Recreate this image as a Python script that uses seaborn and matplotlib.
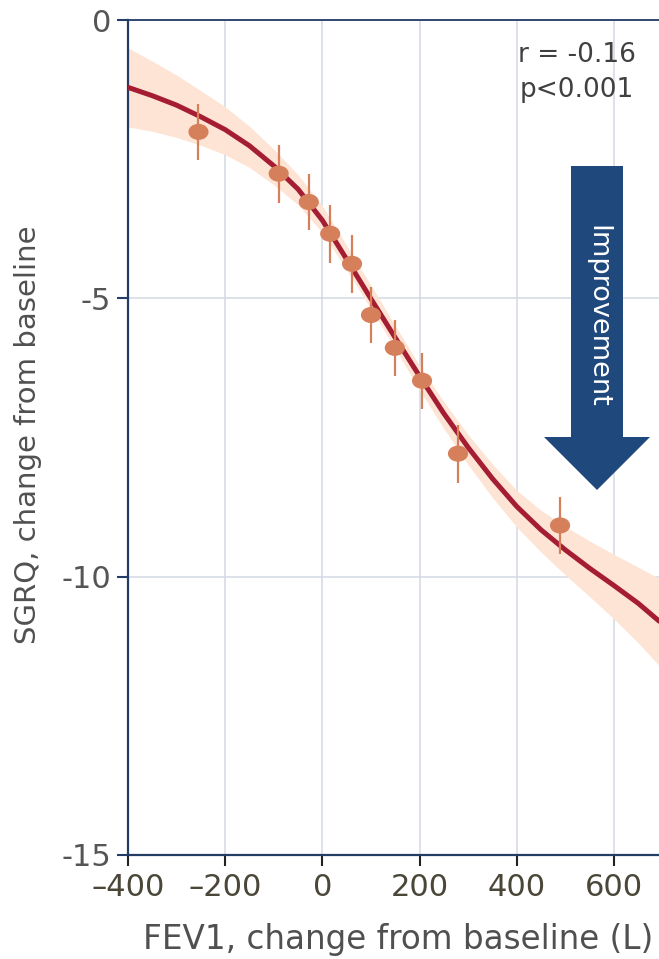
import matplotlib
matplotlib.use("Agg")
import matplotlib.pyplot as plt
import seaborn as sns
import numpy as np
import pandas as pd
from matplotlib.path import Path
from matplotlib.transforms import Affine2D
from matplotlib.patches import Polygon

# ---- data ----
pt_x = [-255, -90, -28, 16, 61, 100, 149, 205, 279, 489]
pt_y = [-2.01, -2.76, -3.27, -3.84, -4.38, -5.30, -5.89, -6.48, -7.79, -9.08]
pt_err = [0.50, 0.52, 0.50, 0.52, 0.52, 0.50, 0.50, 0.50, 0.52, 0.51]

fit_x = [-400, -350, -300, -250, -200, -150, -100, -50, 0, 50, 100, 150,
         200, 250, 300, 350, 400, 450, 500, 550, 600, 650, 693]
fit_y = [-1.21, -1.36, -1.53, -1.74, -1.97, -2.26, -2.62, -3.04, -3.60, -4.30,
         -5.01, -5.71, -6.40, -7.07, -7.68, -8.24, -8.74, -9.16, -9.52, -9.85,
         -10.16, -10.48, -10.80]
ci_hi = [-0.50, -0.74, -0.99, -1.27, -1.56, -1.91, -2.32, -2.78, -3.34, -4.05,
         -4.77, -5.49, -6.21, -6.86, -7.45, -7.98, -8.45, -8.81, -9.10, -9.36,
         -9.60, -9.83, -10.03]
ci_lo = [-1.92, -2.00, -2.11, -2.25, -2.42, -2.65, -2.96, -3.32, -3.82, -4.49,
         -5.19, -5.91, -6.65, -7.34, -7.99, -8.58, -9.11, -9.56, -9.97, -10.36,
         -10.76, -11.19, -11.60]

x_ticks = [-400, -200, 0, 200, 400, 600]
x_tick_labels = ["\u2013400", "\u2013200", "0", "200", "400", "600"]
y_ticks = [0, -5, -10, -15]
y_tick_labels = ["0", "-5", "-10", "-15"]

pts = pd.DataFrame({"x": pt_x, "y": pt_y, "err": pt_err})
fit = pd.DataFrame({"x": fit_x, "y": fit_y, "lo": ci_lo, "hi": ci_hi})

# ---- style ----
sns.set_theme(style="white")
plt.rcParams["font.family"] = ["DejaVu Sans"]
plt.rcParams["axes.unicode_minus"] = False

W, H = 659, 959
fig = plt.figure(figsize=(W / 100, H / 100), dpi=100)
fig.patch.set_facecolor("white")

ax_l, ax_r, ax_t, ax_b = 128, 659, 20, 855
ax = fig.add_axes([ax_l / W, 1 - ax_b / H, (ax_r - ax_l) / W, (ax_b - ax_t) / H])
ax.set_facecolor("white")

navy = "#233d66"
grid_c = "#d3d9e4"
curve_c = "#a41d32"
band_c = "#fde4d5"
pt_c = "#d57f5b"

ax.set_xlim(-400, -400 + (ax_r - ax_l) / 0.486)
ax.set_ylim(-15, 0)

ax.set_xticks(x_ticks)
ax.set_xticklabels(x_tick_labels)
ax.set_yticks(y_ticks)
ax.set_yticklabels(y_tick_labels)

ax.grid(True, color=grid_c, linewidth=1.1, zorder=0)
ax.set_axisbelow(True)

for s in ["left", "bottom", "top"]:
    ax.spines[s].set_visible(True)
    ax.spines[s].set_color(navy)
    ax.spines[s].set_linewidth(1.6)
ax.spines["top"].set_linewidth(1.3)
ax.spines["right"].set_visible(False)

ax.tick_params(axis="y", direction="out", length=8, width=1.5, color=navy,
               labelsize=22, labelcolor="#555555", pad=4, left=True)
ax.tick_params(axis="x", direction="out", length=8, width=1.5, color="#222222",
               labelsize=22, labelcolor="#4a4638", pad=5, bottom=True)

# confidence band
ax.fill_between(fit["x"], fit["lo"], fit["hi"], color=band_c, linewidth=0, zorder=1)
# fitted curve
sns.lineplot(data=fit, x="x", y="y", ax=ax, color=curve_c, linewidth=3.6,
             zorder=3, estimator=None, sort=False, solid_joinstyle="round",
             solid_capstyle="round")
# error bars
ax.errorbar(pts["x"], pts["y"], yerr=pts["err"], fmt="none", ecolor=pt_c,
            elinewidth=1.6, capsize=0, zorder=4)
# points (slightly wide ellipse)
ell = Path.unit_circle().transformed(Affine2D().scale(1.25, 1.0))
sns.scatterplot(data=pts, x="x", y="y", ax=ax, marker=ell, s=210, color=pt_c,
                edgecolor="none", linewidth=0, zorder=5)

ax.set_xlabel("")
ax.set_ylabel("")

# axis labels
fig.text(28 / W, 1 - 435 / H, "SGRQ, change from baseline", rotation=90,
         ha="center", va="center", fontsize=21, color="#505050")
fig.text(398 / W, 1 - 940 / H, "FEV1, change from baseline (L)",
         ha="center", va="center", fontsize=23.5, color="#505050")

# stats annotation
fig.text(577 / W, 1 - 55 / H, "r = -0.16", ha="center", va="center",
         fontsize=19, color="#404040")
fig.text(577 / W, 1 - 90 / H, "p<0.001", ha="center", va="center",
         fontsize=19, color="#404040")

# improvement arrow
arrow_px = [(571, 166), (623, 166), (623, 437), (650, 437), (597, 490),
            (544, 437), (571, 437)]
poly = Polygon([(x / W, 1 - y / H) for x, y in arrow_px], closed=True,
               transform=fig.transFigure, facecolor="#1f497d", edgecolor="none",
               zorder=10)
fig.patches.append(poly)
fig.text(597 / W, 1 - 316 / H, "Improvement", rotation=-90, ha="center",
         va="center", fontsize=19.5, color="white", zorder=11)

fig.savefig("out.png", dpi=100, facecolor="white")
